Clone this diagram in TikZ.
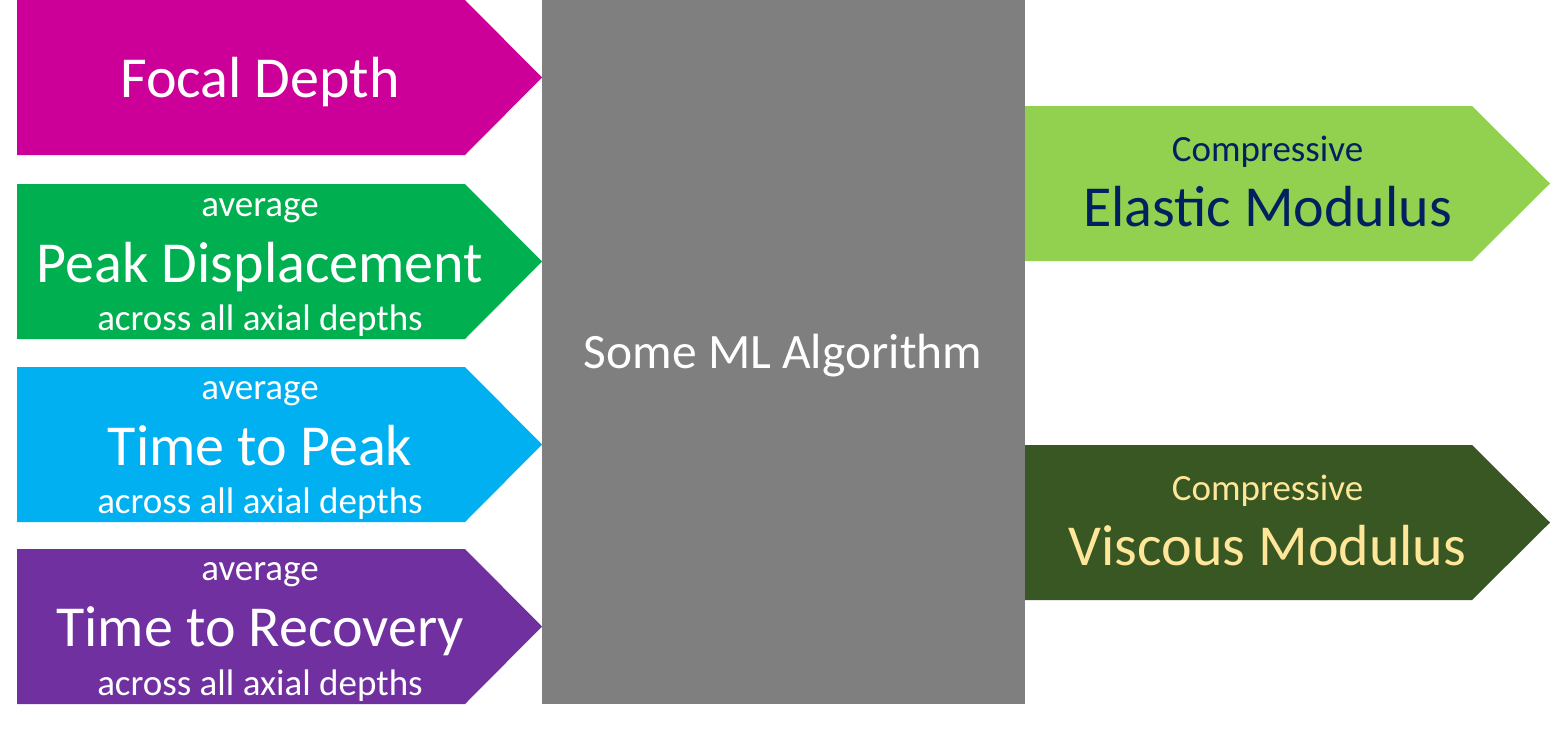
\documentclass[tikz,border=0pt]{standalone}
\usepackage{fontspec}
\setmainfont{Carlito}
\definecolor{cMag}{HTML}{CC0099}
\definecolor{cGrn}{HTML}{00B050}
\definecolor{cBlu}{HTML}{00B0F0}
\definecolor{cPur}{HTML}{7030A0}
\definecolor{cGry}{HTML}{7F7F7F}
\definecolor{cLgr}{HTML}{92D050}
\definecolor{cDgr}{HTML}{385723}
\definecolor{cNavy}{HTML}{002060}
\definecolor{cYel}{HTML}{FFE699}
\tikzset{
  bigtxt/.style={anchor=base, inner sep=0pt, font=\fontsize{58}{60}\selectfont},
  smalltxt/.style={anchor=base, inner sep=0pt, font=\fontsize{37}{40}\selectfont},
  mltxt/.style={anchor=base, inner sep=0pt, font=\fontsize{49.5}{52}\selectfont},
}
% left arrow: #1 top y, #2 colour
\newcommand{\leftarrowshape}[2]{%
  \fill[#2] (17,#1) -- (465,#1) -- (542,#1+77.5) -- (465,#1+155) -- (17,#1+155) -- cycle;}
\newcommand{\rightarrowshape}[2]{%
  \fill[#2] (1025,#1) -- (1472,#1) -- (1550,#1+77.5) -- (1472,#1+155) -- (1025,#1+155) -- cycle;}
\begin{document}
\begin{tikzpicture}[x=1pt,y=-1pt]
\useasboundingbox (0,0) rectangle (1550,729);
\fill[white] (0,0) rectangle (1550,729);
% gray box
\fill[cGry] (542,0) rectangle (1025,703.5);
\node[mltxt, text=white] (ml) at (783,368) {Some ML Algorithm};
% left arrows
\leftarrowshape{0}{cMag}
\node[bigtxt, text=white] (focal) at (260,97.5) {Focal Depth};
\leftarrowshape{184}{cGrn}
\node[smalltxt, text=white] (pdavg) at (260,216.5) {average};
\node[bigtxt, text=white] (pd) at (260,282) {Peak Displacement};
\node[smalltxt, text=white] (pdacr) at (260,330.5) {across all axial depths};
\leftarrowshape{367}{cBlu}
\node[smalltxt, text=white] (tpavg) at (260,399) {average};
\node[bigtxt, text=white] (tp) at (260,465) {Time to Peak};
\node[smalltxt, text=white] (tpacr) at (260,513.5) {across all axial depths};
\leftarrowshape{549}{cPur}
\node[smalltxt, text=white] (travg) at (260,580) {average};
\node[bigtxt, text=white] (tr) at (260,646.7) {Time to Recovery};
\node[smalltxt, text=white] (tracr) at (260,695) {across all axial depths};
% right arrows
\rightarrowshape{106}{cLgr}
\node[smalltxt, text=cNavy] (ecomp) at (1267.5,161.7) {Compressive};
\node[bigtxt, text=cNavy] (em) at (1267.5,226.7) {Elastic Modulus};
\rightarrowshape{445}{cDgr}
\node[smalltxt, text=cYel] (vcomp) at (1267.5,500) {Compressive};
\node[bigtxt, text=cYel] (vm) at (1267.5,565) {Viscous Modulus};
\end{tikzpicture}
\end{document}
